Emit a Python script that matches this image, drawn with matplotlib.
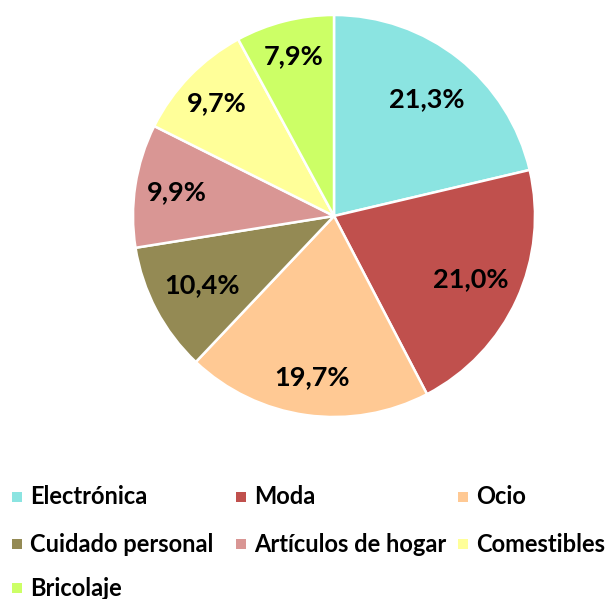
import matplotlib
matplotlib.use("Agg")
import numpy as np
import matplotlib.pyplot as plt
from matplotlib.patches import Rectangle

categories = ["Electrónica", "Moda", "Ocio", "Cuidado personal",
              "Artículos de hogar", "Comestibles", "Bricolaje"]
values = [21.3, 21.0, 19.7, 10.4, 9.9, 9.7, 7.9]
labels = ["21,3%", "21,0%", "19,7%", "10,4%", "9,9%", "9,7%", "7,9%"]
colors = ["#8BE4E1", "#C0504D", "#FFC994", "#948A54", "#D99694", "#FFFF99", "#CCFF66"]
label_dist = [0.74, 0.75, 0.81, 0.74, 0.79, 0.81, 0.82]

plt.rcParams['font.family'] = ['Lato', 'DejaVu Sans']

W, H = 609, 599
fig = plt.figure(figsize=(W / 100, H / 100), dpi=100)
cx, cy, r = 334, 216, 201
ax = fig.add_axes([(cx - r) / W, (H - cy - r) / H, 2 * r / W, 2 * r / H])
wedges, _ = ax.pie(values, colors=colors, startangle=90, counterclock=False,
                   radius=1.0,
                   wedgeprops=dict(edgecolor="white", linewidth=1.8))
for w, lab, d in zip(wedges, labels, label_dist):
    ang = np.deg2rad((w.theta1 + w.theta2) / 2)
    ax.text(d * np.cos(ang), d * np.sin(ang), lab, fontsize=19.5, fontweight="bold",
            color="black", ha="center", va="center")
ax.set_xlim(-1, 1)
ax.set_ylim(-1, 1)
ax.set_aspect("equal")
ax.axis("off")

# Legend (manual, equal-width columns)
col_x = [12, 236, 458]
row_y = [497, 544, 588]
for i, (cat, col) in enumerate(zip(categories, colors)):
    rr, cc = divmod(i, 3)
    x0, y0 = col_x[cc], row_y[rr]
    fig.add_artist(Rectangle((x0 / W, (H - y0 - 5) / H), 10 / W, 10 / H,
                             transform=fig.transFigure, facecolor=col, edgecolor="none"))
    fig.text((x0 + 18) / W, (H - y0) / H, cat, fontsize=17, fontweight="bold",
             ha="left", va="center", color="black")

fig.savefig("out.png", dpi=100)
